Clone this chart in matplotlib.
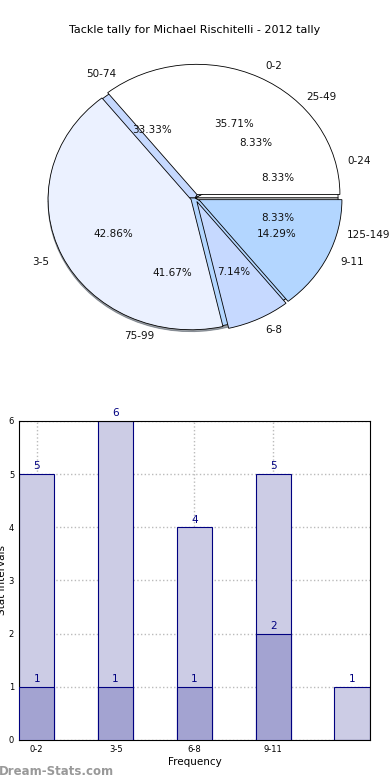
import matplotlib
matplotlib.use("Agg")
import matplotlib.pyplot as plt
import numpy as np

# pie data
tally_labels = ["0-2", "3-5", "6-8", "9-11"]
tally_values = [5, 6, 1, 2]
interval_labels = ["0-24", "25-49", "50-74", "75-99", "125-149"]
interval_values = [1, 1, 4, 5, 1]

# bar data
bar_labels = ["0-2", "3-5", "6-8", "9-11"]
light_values = [5, 6, 4, 5, 1]
dark_values = [1, 1, 1, 2]

pie_colors = ["#ffffff", "#ebf1ff", "#c6d9ff", "#b3d6ff", "#ffffff"]
navy = "#000080"

fig = plt.figure(figsize=(3.9, 7.8), dpi=100)
fig.text(0.5, 0.961, "Tackle tally for Michael Rischitelli - 2012 tally",
         ha="center", va="center", fontsize=8, color="black")

# ---- pie ----
ax1 = fig.add_axes([0.0415, 0.5377, 0.917, 0.417])
ax1.pie(interval_values, labels=interval_labels, colors=pie_colors,
        autopct="%.2f%%", pctdistance=0.6, labeldistance=1.1, shadow=True,
        wedgeprops=dict(edgecolor="black", linewidth=0.6),
        textprops=dict(fontsize=7.5, color="#111111"))
ax1.pie(tally_values, labels=tally_labels, colors=pie_colors[:4],
        explode=[0.03] * 4,
        autopct="%.2f%%", pctdistance=0.6, labeldistance=1.1,
        wedgeprops=dict(edgecolor="black", linewidth=0.6),
        textprops=dict(fontsize=7.5, color="#111111"))
ax1.set_aspect("auto")
ax1.set_xlim(-1.25, 1.25)
ax1.set_ylim(-1.25, 1.25)

# ---- bars ----
ax2 = fig.add_axes([0.0487, 0.0513, 0.9, 0.409])
w = 0.45
x_light = np.arange(len(light_values))
x_dark = np.arange(len(dark_values))
ax2.bar(x_light, light_values, width=w, align="edge", color="#ccccE5",
        edgecolor=navy, linewidth=0.8, zorder=2)
ax2.bar(x_dark, dark_values, width=w, align="edge", color="#a3a3d1",
        edgecolor=navy, linewidth=0.8, zorder=3)
for xi, v in zip(x_light, light_values):
    ax2.text(xi + w / 2, v + 0.05, str(v), ha="center", va="bottom",
             fontsize=7.5, color=navy, zorder=4)
for xi, v in zip(x_dark, dark_values):
    ax2.text(xi + w / 2, v + 0.05, str(v), ha="center", va="bottom",
             fontsize=7.5, color=navy, zorder=4)

ax2.set_xlim(0, len(light_values) - 1 + w)
ax2.set_ylim(0, 6)
ax2.set_xticks(x_dark + w / 2)
ax2.set_xticklabels(bar_labels)
ax2.set_yticks(range(7))
ax2.tick_params(labelsize=6, direction="in", color="#aaaaaa", length=2)
ax2.grid(True, linestyle=":", color="#bbbbbb", linewidth=1, zorder=0)
ax2.set_axisbelow(True)
ax2.set_xlabel("Frequency", fontsize=7.5, labelpad=2)
ax2.set_ylabel("Stat Intervals", fontsize=7.5, labelpad=1)

fig.text(-0.003, 0.0115, "Dream-Stats.com", ha="left", va="center",
         fontsize=8.5, color="#999999", fontweight="bold")

fig.savefig("out.png", dpi=100)
